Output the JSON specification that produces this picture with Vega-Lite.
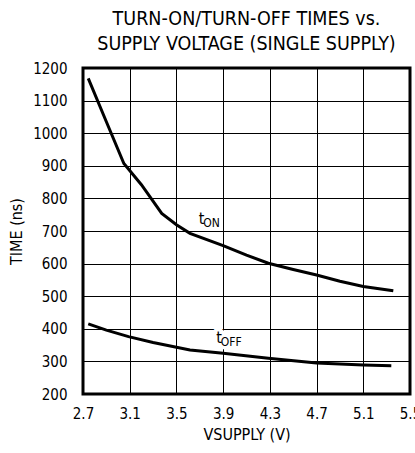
{
  "$schema": "https://vega.github.io/schema/vega-lite/v6.json",
  "width": 327,
  "height": 326,
  "autosize": {"type": "none"},
  "padding": {"left": 83, "top": 68, "right": 5, "bottom": 59},
  "background": "white",
  "config": {
    "font": "DejaVu Sans Condensed, Liberation Sans, sans-serif",
    "view": {"stroke": "black", "strokeWidth": 3},
    "axis": {
      "domain": false,
      "ticks": false,
      "grid": true,
      "gridColor": "black",
      "gridOpacity": 1,
      "gridWidth": 1,
      "labelFont": "DejaVu Sans Condensed, Liberation Sans, sans-serif",
      "labelFontSize": 15,
      "labelColor": "black",
      "labelOverlap": false,
      "titleFont": "DejaVu Sans Condensed, Liberation Sans, sans-serif",
      "titleFontSize": 16,
      "titleFontWeight": "normal",
      "titleColor": "black"
    }
  },
  "title": {
    "text": ["TURN-ON/TURN-OFF TIMES vs.", "SUPPLY VOLTAGE (SINGLE SUPPLY)"],
    "font": "DejaVu Sans Condensed, Liberation Sans, sans-serif",
    "fontSize": 19.5,
    "fontWeight": "normal",
    "color": "black",
    "anchor": "middle",
    "lineHeight": 25,
    "offset": 7
  },
  "datasets": {
    "curves": [
      {"v": 2.745, "t": 1168, "s": "tON"},
      {"v": 2.9, "t": 1035, "s": "tON"},
      {"v": 3.05, "t": 907, "s": "tON"},
      {"v": 3.2, "t": 842, "s": "tON"},
      {"v": 3.374, "t": 754, "s": "tON"},
      {"v": 3.5, "t": 719, "s": "tON"},
      {"v": 3.616, "t": 693, "s": "tON"},
      {"v": 3.9, "t": 655, "s": "tON"},
      {"v": 4.1, "t": 626, "s": "tON"},
      {"v": 4.287, "t": 601, "s": "tON"},
      {"v": 4.5, "t": 582, "s": "tON"},
      {"v": 4.7, "t": 565, "s": "tON"},
      {"v": 4.9, "t": 546, "s": "tON"},
      {"v": 5.1, "t": 530, "s": "tON"},
      {"v": 5.357, "t": 517, "s": "tON"},
      {"v": 2.745, "t": 415, "s": "tOFF"},
      {"v": 2.9, "t": 396, "s": "tOFF"},
      {"v": 3.09, "t": 376, "s": "tOFF"},
      {"v": 3.3, "t": 358, "s": "tOFF"},
      {"v": 3.616, "t": 335, "s": "tOFF"},
      {"v": 3.9, "t": 325, "s": "tOFF"},
      {"v": 4.287, "t": 310, "s": "tOFF"},
      {"v": 4.7, "t": 295, "s": "tOFF"},
      {"v": 5.1, "t": 289, "s": "tOFF"},
      {"v": 5.34, "t": 287, "s": "tOFF"}
    ],
    "labels": [
      {"v": 3.73, "t": 738, "main": "t", "sub": "ON"},
      {"v": 3.88, "t": 373, "main": "t", "sub": "OFF"}
    ]
  },
  "encoding": {
    "x": {
      "field": "v", "type": "quantitative",
      "scale": {"domain": [2.7, 5.5], "nice": false, "zero": false},
      "axis": {"values": [2.7, 3.1, 3.5, 3.9, 4.3, 4.7, 5.1, 5.5], "format": ".1f", "labelPadding": 12, "title": "VSUPPLY (V)", "titlePadding": 5, "labelFlush": false}
    },
    "y": {
      "field": "t", "type": "quantitative",
      "scale": {"domain": [200, 1200], "nice": false, "zero": false},
      "axis": {"values": [200, 300, 400, 500, 600, 700, 800, 900, 1000, 1100, 1200], "format": "d", "labelPadding": 16, "title": "TIME (ns)", "titlePadding": 8, "labelFlush": false}
    }
  },
  "layer": [
    {
      "data": {"name": "curves"},
      "mark": {"type": "line", "color": "black", "strokeWidth": 3, "clip": true},
      "encoding": {"detail": {"field": "s"}}
    },
    {
      "data": {"name": "labels"},
      "mark": {"type": "text", "align": "right", "baseline": "middle", "fontSize": 16, "color": "white", "stroke": "white", "strokeWidth": 7, "dx": 1},
      "encoding": {"text": {"field": "main"}}
    },
    {
      "data": {"name": "labels"},
      "mark": {"type": "text", "align": "left", "baseline": "middle", "fontSize": 12, "color": "white", "stroke": "white", "strokeWidth": 7, "dy": 4},
      "encoding": {"text": {"field": "sub"}}
    },
    {
      "data": {"name": "labels"},
      "mark": {"type": "text", "align": "right", "baseline": "middle", "fontSize": 16, "color": "black", "dx": 1},
      "encoding": {"text": {"field": "main"}}
    },
    {
      "data": {"name": "labels"},
      "mark": {"type": "text", "align": "left", "baseline": "middle", "fontSize": 12, "color": "black", "dy": 4},
      "encoding": {"text": {"field": "sub"}}
    }
  ]
}
